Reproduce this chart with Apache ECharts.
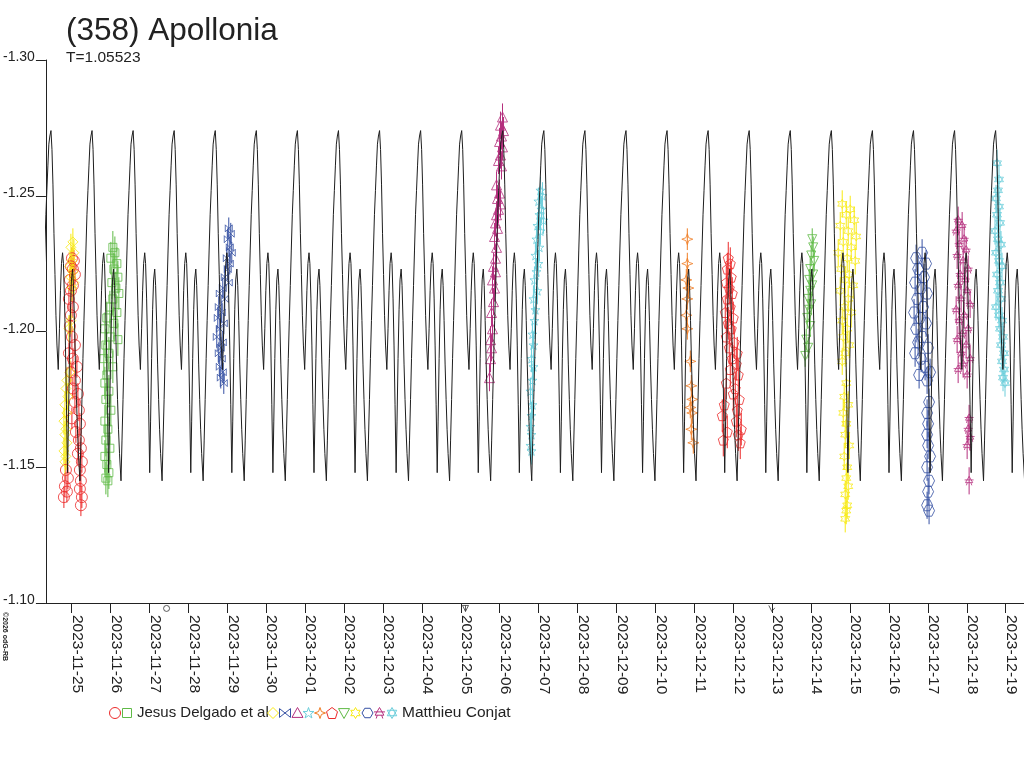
<!DOCTYPE html>
<html>
<head>
<meta charset="utf-8">
<script src="https://cdn.jsdelivr.net/npm/echarts@6/dist/echarts.min.js"></script>
<style>
  html, body { margin: 0; padding: 0; background: #fff; }
  #chart { width: 1024px; height: 768px; }
</style>
</head>
<body>
<div id="chart"></div>
<script>
// x values are days counted from 2023-11-25 00:00, y values are magnitudes
const dayLabels = ['2023-11-25', '2023-11-26', '2023-11-27', '2023-11-28', '2023-11-29', '2023-11-30',
  '2023-12-01', '2023-12-02', '2023-12-03', '2023-12-04', '2023-12-05', '2023-12-06', '2023-12-07',
  '2023-12-08', '2023-12-09', '2023-12-10', '2023-12-11', '2023-12-12', '2023-12-13', '2023-12-14',
  '2023-12-15', '2023-12-16', '2023-12-17', '2023-12-18', '2023-12-19']
const yTicks = [-1.30, -1.25, -1.20, -1.15, -1.10]

// model lightcurve: one period
const period = 1.05523
const peakEpoch = -0.53
const profilePhase = [0, 0.026, 0.051, 0.077, 0.103, 0.128, 0.154, 0.187, 0.218, 0.244, 0.270, 0.298,
  0.321, 0.347, 0.372, 0.398, 0.426, 0.449, 0.475, 0.501, 0.526, 0.555, 0.578, 0.603, 0.629, 0.655,
  0.680, 0.706, 0.744, 0.770, 0.796, 0.821, 0.847, 0.873, 0.898, 0.924, 0.950, 0.976, 1.001, 1.027]
const profileMag = [-1.274, -1.267, -1.254, -1.236, -1.221, -1.206, -1.195, -1.186, -1.201, -1.215, -1.225, -1.229,
  -1.225, -1.212, -1.195, -1.173, -1.148, -1.167, -1.190, -1.208, -1.219, -1.223, -1.217, -1.204, -1.188, -1.175,
  -1.164, -1.155, -1.145, -1.160, -1.175, -1.190, -1.204, -1.217, -1.230, -1.243, -1.252, -1.261, -1.269, -1.272]

// observations
const delgado1 = [[0.008,-1.227],[0.059,-1.226],[-0.018,-1.224],[0.033,-1.223],[0.085,-1.221],[-0.044,-1.219],
  [0.033,-1.217],[-0.018,-1.215],[-0.069,-1.212],[0.033,-1.209],[-0.018,-1.206],[-0.044,-1.202],[0.008,-1.198],
  [0.085,-1.195],[-0.069,-1.192],[0.033,-1.190],[0.136,-1.187],[-0.018,-1.185],[0.085,-1.182],[0.033,-1.179],
  [0.162,-1.177],[0.085,-1.174],[0.187,-1.171],[0.008,-1.168],[0.213,-1.166],[0.110,-1.163],[0.187,-1.160],
  [0.239,-1.157],[0.162,-1.155],[0.264,-1.152],[-0.146,-1.149],[0.213,-1.149],[-0.095,-1.146],[-0.172,-1.143],
  [0.239,-1.145],[-0.121,-1.141],[0.213,-1.142],[-0.198,-1.139],[0.264,-1.139],[0.239,-1.136]]
const delgado2 = [[1.060,-1.231],[1.112,-1.229],[1.009,-1.227],[1.163,-1.225],[1.086,-1.223],[1.189,-1.220],
  [1.035,-1.218],[1.137,-1.216],[1.214,-1.214],[1.060,-1.212],[0.983,-1.209],[1.163,-1.207],[0.906,-1.205],
  [1.086,-1.203],[0.855,-1.201],[1.009,-1.198],[1.189,-1.197],[0.881,-1.195],[0.958,-1.192],[0.829,-1.190],
  [1.060,-1.187],[0.906,-1.184],[0.855,-1.181],[0.958,-1.178],[0.881,-1.175],[1.009,-1.171],[0.855,-1.167],
  [0.932,-1.164],[0.881,-1.160],[0.983,-1.157],[0.855,-1.154],[0.906,-1.151],[0.958,-1.148],[0.881,-1.146],
  [0.932,-1.145]]
const conjat1 = [[0.033,-1.233],[-0.018,-1.231],[0.059,-1.229],[0.008,-1.226],[-0.044,-1.224],[0.033,-1.222],
  [-0.018,-1.220],[0.059,-1.218],[0.008,-1.216],[-0.018,-1.204],[-0.069,-1.201],[-0.044,-1.185],[-0.121,-1.182],
  [-0.146,-1.179],[-0.095,-1.176],[-0.172,-1.173],[-0.121,-1.170],[-0.198,-1.167],[-0.146,-1.164],[-0.172,-1.162],
  [-0.121,-1.159],[-0.198,-1.156],[-0.146,-1.154],[-0.172,-1.152]]
const conjat2 = [[4.038,-1.238],[4.089,-1.236],[4.012,-1.234],[4.064,-1.231],[4.115,-1.229],[3.987,-1.227],
  [4.064,-1.225],[4.012,-1.223],[3.935,-1.220],[4.038,-1.218],[3.884,-1.216],[3.807,-1.214],[3.935,-1.212],
  [3.781,-1.209],[3.858,-1.207],[3.756,-1.205],[3.910,-1.203],[3.807,-1.201],[3.730,-1.198],[3.884,-1.196],
  [3.833,-1.194],[3.781,-1.192],[3.858,-1.190],[3.807,-1.187],[3.884,-1.185],[3.833,-1.183],[3.910,-1.181]]
const conjat3 = [[11.071,-1.279],[11.019,-1.276],[11.097,-1.274],[11.045,-1.272],[10.994,-1.270],[11.071,-1.268],
  [11.019,-1.265],[10.968,-1.263],[11.045,-1.261],[10.917,-1.254],[10.994,-1.251],[10.943,-1.249],[11.019,-1.247],
  [10.968,-1.245],[10.917,-1.243],[10.891,-1.240],[10.943,-1.238],[10.866,-1.235],[10.917,-1.231],[10.891,-1.227],
  [10.840,-1.224],[10.891,-1.222],[10.814,-1.219],[10.866,-1.216],[10.840,-1.211],[10.789,-1.207],[10.814,-1.201],
  [10.763,-1.197],[10.789,-1.194],[10.763,-1.190],[10.737,-1.183]]
const conjat4 = [[12.046,-1.252],[12.097,-1.250],[11.994,-1.248],[12.071,-1.245],[12.020,-1.243],[12.123,-1.241],
  [11.969,-1.239],[12.046,-1.237],[11.943,-1.234],[12.020,-1.231],[11.917,-1.228],[11.994,-1.225],[11.943,-1.222],
  [11.892,-1.219],[11.969,-1.215],[11.866,-1.212],[11.917,-1.208],[11.892,-1.204],[11.840,-1.199],[11.866,-1.195],
  [11.815,-1.190],[11.866,-1.187],[11.840,-1.182],[11.789,-1.178],[11.840,-1.173],[11.815,-1.169],[11.789,-1.165],
  [11.815,-1.162],[11.789,-1.158],[11.815,-1.156]]
const conjat5 = [[15.819,-1.234],[15.819,-1.225],[15.793,-1.219],[15.845,-1.216],[15.819,-1.212],[15.793,-1.206],
  [15.819,-1.201],[15.896,-1.189],[15.922,-1.180],[15.947,-1.175],[15.896,-1.172],[15.947,-1.170],[15.922,-1.164],
  [15.973,-1.159]]
const conjat6 = [[16.871,-1.227],[16.923,-1.225],[16.846,-1.223],[16.948,-1.220],[16.820,-1.218],[16.897,-1.216],
  [16.974,-1.214],[16.846,-1.212],[16.923,-1.209],[16.794,-1.207],[17.000,-1.205],[16.871,-1.203],[16.948,-1.201],
  [16.820,-1.198],[17.025,-1.196],[16.897,-1.194],[17.102,-1.192],[16.974,-1.190],[17.077,-1.188],[16.923,-1.186],
  [17.128,-1.184],[16.820,-1.181],[17.051,-1.179],[17.000,-1.177],[17.154,-1.175],[16.769,-1.173],[17.102,-1.171],
  [16.717,-1.169],[17.077,-1.167],[17.205,-1.164],[16.846,-1.163],[17.128,-1.162],[16.743,-1.160],[17.179,-1.159]]
const conjat7 = [[19.028,-1.234],[19.053,-1.231],[19.002,-1.228],[19.079,-1.226],[18.976,-1.223],[19.053,-1.221],
  [18.951,-1.219],[19.028,-1.217],[18.976,-1.215],[18.925,-1.212],[19.002,-1.210],[18.951,-1.208],[18.899,-1.205],
  [18.976,-1.202],[18.874,-1.197],[18.925,-1.194],[18.848,-1.191]]
const conjat8 = [[19.799,-1.247],[20.004,-1.245],[19.902,-1.243],[20.107,-1.241],[19.748,-1.239],[19.953,-1.237],
  [20.158,-1.235],[19.825,-1.233],[20.030,-1.231],[19.696,-1.229],[19.927,-1.227],[20.133,-1.226],[19.773,-1.223],
  [19.979,-1.221],[19.876,-1.219],[20.081,-1.217],[19.748,-1.215],[19.953,-1.212],[19.850,-1.209],[20.030,-1.207],
  [19.799,-1.204],[19.927,-1.201],[19.825,-1.198],[19.979,-1.195],[19.876,-1.192],[19.799,-1.189],[19.902,-1.181],
  [19.850,-1.176],[19.953,-1.173],[19.825,-1.170],[19.902,-1.166],[19.876,-1.162],[19.979,-1.158],[19.850,-1.154],
  [19.927,-1.150],[19.902,-1.146],[19.953,-1.143],[19.876,-1.140],[19.927,-1.136],[19.902,-1.134],[19.876,-1.131]]
const conjat9 = [[21.851,-1.229],[21.697,-1.227],[21.953,-1.225],[21.748,-1.223],[21.902,-1.220],[21.671,-1.218],
  [21.825,-1.216],[21.979,-1.214],[21.722,-1.212],[21.876,-1.209],[21.645,-1.207],[21.799,-1.205],[21.953,-1.203],
  [21.697,-1.201],[21.851,-1.198],[21.748,-1.196],[22.005,-1.194],[21.671,-1.192],[21.825,-1.190],[21.928,-1.187],
  [22.056,-1.185],[21.774,-1.184],[21.979,-1.182],[22.030,-1.174],[21.979,-1.170],[22.005,-1.166],[21.979,-1.162],
  [22.005,-1.158],[22.056,-1.154],[21.979,-1.150],[22.030,-1.145],[22.005,-1.141],[21.979,-1.136],[22.030,-1.134]]
const conjat10 = [[22.777,-1.241],[22.880,-1.239],[22.726,-1.237],[22.931,-1.234],[22.803,-1.232],[22.982,-1.230],
  [22.751,-1.228],[22.905,-1.226],[23.034,-1.223],[22.828,-1.221],[22.957,-1.219],[22.777,-1.217],[23.008,-1.215],
  [22.854,-1.212],[23.085,-1.210],[22.726,-1.208],[22.931,-1.206],[22.803,-1.204],[23.034,-1.201],[22.880,-1.199],
  [22.751,-1.197],[22.982,-1.195],[22.854,-1.192],[23.085,-1.190],[22.905,-1.188],[22.777,-1.186],[23.008,-1.184],
  [23.059,-1.168],[23.034,-1.164],[23.085,-1.161],[23.008,-1.158],[23.059,-1.145]]
const conjat11 = [[23.776,-1.262],[23.827,-1.256],[23.801,-1.252],[23.750,-1.249],[23.827,-1.246],[23.776,-1.243],
  [23.853,-1.240],[23.724,-1.237],[23.801,-1.234],[23.878,-1.232],[23.750,-1.229],[23.827,-1.226],[23.904,-1.224],
  [23.776,-1.221],[23.853,-1.218],[23.801,-1.215],[23.878,-1.212],[23.750,-1.209],[23.827,-1.206],[23.904,-1.204],
  [23.853,-1.201],[23.930,-1.198],[23.878,-1.195],[23.955,-1.192],[23.904,-1.189],[23.955,-1.186],[23.930,-1.183],
  [23.981,-1.181]]
const obsErr = [0.004, 0.006, 0.005, 0.004, 0.005, 0.005, 0.004, 0.006, 0.004, 0.005, 0.005, 0.005, 0.005]

// moon phase markers below the axis (full, last quarter, new)
const moonDays = [2.44, 10.12, 17.99]

// symbols, drawn in a 10x10 box
const P = {
  diamond: 'M5 0L10 5L5 10L0 5Z',
  bowtie: 'M0 1L10 9L10 1L0 9Z',
  triangle: 'M5 0L10 9L0 9Z',
  star5: 'M5 0L6.2 3.6L10 3.6L7 5.9L8.1 9.5L5 7.3L1.9 9.5L3 5.9L0 3.6L3.8 3.6Z',
  star4: 'M5 0L6.3 3.7L10 5L6.3 6.3L5 10L3.7 6.3L0 5L3.7 3.7Z',
  pentagon: 'M5 0L10 3.8L8.1 10L1.9 10L0 3.8Z',
  down: 'M0 1L10 1L5 10Z',
  star6: 'M5 0L6.4 2.6L9.3 2.5L7.8 5L9.3 7.5L6.4 7.4L5 10L3.6 7.4L0.7 7.5L2.2 5L0.7 2.5L3.6 2.6Z',
  hexagon: 'M2.5 0.7L7.5 0.7L10 5L7.5 9.3L2.5 9.3L0 5Z',
  tristar: 'M5 0L9 7L1 7Z M0 4L10 4 M3 7L2 10 M7 7L8 10',
  david: 'M5 0L9.3 7.5L0.7 7.5Z M5 10L0.7 2.5L9.3 2.5Z'
}

const RED = '#ec2a2a', GREEN = '#5fba46', YELLOW = '#f8ea12', BLUE = '#3550a3',
  MAGENTA = '#b5307e', CYAN = '#6ccedb', ORANGE = '#f07d24'

const sessions = [
  { pts: delgado1, color: RED, symbol: 'circle', size: 11, lx: 115 },
  { pts: delgado2, color: GREEN, symbol: 'rect', size: 8, lx: 127 },
  { pts: conjat1, color: YELLOW, symbol: P.diamond, size: 10, lx: 273 },
  { pts: conjat2, color: BLUE, symbol: P.bowtie, size: 7, lx: 285 },
  { pts: conjat3, color: MAGENTA, symbol: P.triangle, size: 10, lx: 297.5 },
  { pts: conjat4, color: CYAN, symbol: P.star5, size: 9, lx: 308.5 },
  { pts: conjat5, color: ORANGE, symbol: P.star4, size: 11, lx: 320 },
  { pts: conjat6, color: RED, symbol: P.pentagon, size: 10, lx: 332 },
  { pts: conjat7, color: GREEN, symbol: P.down, size: 9, lx: 344 },
  { pts: conjat8, color: YELLOW, symbol: P.star6, size: 9, lx: 355.5 },
  { pts: conjat9, color: BLUE, symbol: P.hexagon, size: 11, lx: 367.5 },
  { pts: conjat10, color: MAGENTA, symbol: P.tristar, size: 9, lx: 379.5 },
  { pts: conjat11, color: CYAN, symbol: P.david, size: 9, lx: 392 }
]

// model curve, one profile per rotation
const modelCurve = []
for (let k = -1; k <= 24; k++) {
  profilePhase.forEach((ph, i) => {
    modelCurve.push([peakEpoch + k * period + ph, profileMag[i]])
  })
}

const FONT = 'Liberation Sans, Arial, sans-serif'
const xMin = -0.66, xMax = 24.469

const series = []
sessions.forEach((s, i) => {
  const err = obsErr[i]
  series.push({
    type: 'custom',
    data: s.pts,
    z: 2,
    silent: true,
    renderItem: function (params, api) {
      const t = api.value(0), m = api.value(1)
      const a = api.coord([t, m - err])
      const b = api.coord([t, m + err])
      return { type: 'line', shape: { x1: a[0], y1: a[1], x2: b[0], y2: b[1] }, style: { stroke: s.color, lineWidth: 1 } }
    }
  })
  series.push({
    type: 'scatter',
    data: s.pts,
    z: 3,
    symbol: s.symbol === 'circle' || s.symbol === 'rect' ? s.symbol : 'path://' + s.symbol,
    symbolSize: s.size,
    itemStyle: { color: 'rgba(0,0,0,0)', borderColor: s.color, borderWidth: 1 }
  })
})
series.push({
  type: 'line',
  data: modelCurve,
  z: 5,
  symbol: 'none',
  clip: true,
  lineStyle: { color: '#1e1e1e', width: 1 }
})
series.push({
  type: 'scatter',
  data: moonDays.map(d => [d, yTicks[yTicks.length - 1] + 0.002]),
  clip: false,
  z: 6,
  symbolSize: 6,
  symbol: function (v, p) {
    return ['circle', 'path://M0 0L10 0L5 8Z M5 0L5 8', 'path://M0 0L5 10L10 4'][p.dataIndex]
  },
  itemStyle: { color: 'rgba(0,0,0,0)', borderColor: '#333', borderWidth: 1 }
})

// turn a 10x10 path into polygons / polylines for the hand drawn legend
function pathShapes(d, cx, cy, color) {
  const out = []
  d.split('M').filter(p => p.trim()).forEach(sub => {
    const closed = /Z/.test(sub)
    const nums = sub.replace(/[LZ]/g, ' ').trim().split(/\s+/).map(Number)
    const pts = []
    for (let j = 0; j < nums.length; j += 2) pts.push([cx - 5.5 + nums[j] * 1.1, cy - 5.5 + nums[j + 1] * 1.1])
    out.push({ type: closed ? 'polygon' : 'polyline', shape: { points: pts }, style: { fill: 'none', stroke: color, lineWidth: 1 } })
  })
  return out
}

const legendY = 713
const graphic = [
  { type: 'text', x: 66, y: 31, style: { text: '(358) Apollonia', font: '31.5px ' + FONT, fill: '#222', verticalAlign: 'middle' } },
  { type: 'text', x: 66, y: 58, style: { text: 'T=' + period, font: '15.5px ' + FONT, fill: '#222', verticalAlign: 'middle' } },
  { type: 'text', x: 5, y: 612, rotation: -Math.PI / 2, style: { text: '\u00a92026 odG-RB', font: 'bold 7px ' + FONT, fill: '#222', align: 'left', verticalAlign: 'middle' } },
  { type: 'text', x: 137, y: legendY, style: { text: 'Jesus Delgado et al', font: '15px ' + FONT, fill: '#222', verticalAlign: 'middle' } },
  { type: 'text', x: 402, y: legendY, style: { text: 'Matthieu Conjat', font: '15.5px ' + FONT, fill: '#222', verticalAlign: 'middle' } }
]
sessions.forEach(s => {
  const st = { fill: 'none', stroke: s.color, lineWidth: 1 }
  if (s.symbol === 'circle') {
    graphic.push({ type: 'circle', shape: { cx: s.lx, cy: legendY, r: 5.5 }, style: st })
  } else if (s.symbol === 'rect') {
    graphic.push({ type: 'rect', shape: { x: s.lx - 4.5, y: legendY - 4.5, width: 9, height: 9 }, style: st })
  } else {
    pathShapes(s.symbol, s.lx, legendY, s.color).forEach(g => graphic.push(g))
  }
})

const chart = echarts.init(document.getElementById('chart'))
chart.setOption({
  animation: false,
  backgroundColor: '#fff',
  grid: { left: 45, right: 0, top: 60, bottom: 165 },
  xAxis: {
    type: 'value',
    min: xMin,
    max: xMax,
    splitLine: { show: false },
    axisLine: { onZero: false, lineStyle: { color: '#222', width: 1 } },
    axisTick: { show: true, length: 10, lineStyle: { color: '#222' }, customValues: dayLabels.map((_, i) => i) },
    axisLabel: {
      customValues: dayLabels.map((_, i) => i),
      formatter: v => dayLabels[Math.round(v)],
      rotate: -90,
      margin: 12,
      verticalAlign: 'bottom',
      lineHeight: 11,
      color: '#222',
      fontFamily: FONT,
      fontSize: 15.5
    }
  },
  yAxis: {
    type: 'value',
    inverse: true,
    min: yTicks[0],
    max: yTicks[yTicks.length - 1],
    splitLine: { show: false },
    axisLine: { show: true, onZero: false, lineStyle: { color: '#222', width: 1 } },
    axisTick: { show: true, length: 10, lineStyle: { color: '#222' }, customValues: yTicks },
    axisLabel: {
      customValues: yTicks,
      formatter: v => v.toFixed(2),
      margin: 11,
      verticalAlign: 'bottom',
      lineHeight: 5,
      color: '#222',
      fontFamily: FONT,
      fontSize: 14
    }
  },
  graphic: graphic,
  series: series
})
</script>
</body>
</html>
